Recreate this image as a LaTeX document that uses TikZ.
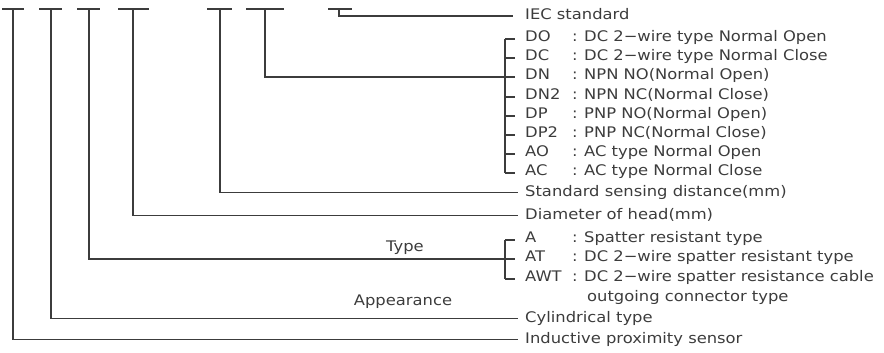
\documentclass[tikz,border=0pt]{standalone}
\usepackage{fontspec}
\setmainfont[FakeStretch=1.12]{DejaVu Sans}
\definecolor{ink}{HTML}{3C3C3C}
\begin{document}
\begin{tikzpicture}[x=1pt,y=-1pt,
  ln/.style={draw=ink,line width=1.2pt},
  txt/.style={inner sep=0pt,anchor=mid west,text=ink,font=\fontsize{14.6}{16}\selectfont},
  lbl/.style={inner sep=0pt,anchor=mid,text=ink,font=\fontsize{14.6}{16}\selectfont}]
\useasboundingbox (0,0) rectangle (884,353);
% top bars
\foreach \n/\a/\b/\c in {1/2/24/13,2/39/62/51,3/77/100/89,4/118/149/133,5/207/232/220,6/246/284/265,7/328/352/339}{
  \coordinate (bl\n) at (\a,9);
  \coordinate (br\n) at (\b,9);
  \coordinate (bm\n) at (\c,9);
  \draw[ln] (bl\n) -- (br\n);
}
% texts
\node[txt] (iec) at (525,17) {IEC standard};
\foreach \k/\y/\code/\desc in {do/39/DO/DC 2−wire type Normal Open,
  dc/58/DC/DC 2−wire type Normal Close,
  dn/77/DN/NPN NO(Normal Open),
  dntwo/97/DN2/NPN NC(Normal Close),
  dp/116/DP/PNP NO(Normal Open),
  dptwo/135/DP2/PNP NC(Normal Close),
  ao/154/AO/AC type Normal Open,
  ac/173/AC/AC type Normal Close,
  a/240/A/Spatter resistant type,
  at/259/AT/DC 2−wire spatter resistant type,
  awt/279/AWT/DC 2−wire spatter resistance cable}{
  \node[txt] (c\k) at (525,\y) {\code};
  \node[txt] (k\k) at (572,\y) {:};
  \node[txt] (d\k) at (584,\y) {\desc};
  \coordinate (t\k) at (505,\y);
  \draw[ln] (t\k) -- (515,\y);
}
\node[txt] (out) at (587,299) {outgoing connector type};
\node[txt] (std) at (525,194) {Standard sensing distance(mm)};
\node[txt] (dia) at (525,217) {Diameter of head(mm)};
\node[txt] (cyl) at (525,320) {Cylindrical type};
\node[txt] (ind) at (525,341) {Inductive proximity sensor};
\node[lbl] (type) at (405,249) {Type};
\node[lbl] (app) at (403,303) {Appearance};
% brackets
\draw[ln] (tdo) -- (tac);
\draw[ln] (ta) -- (tawt);
% connectors
\draw[ln] (bm7) |- ([xshift=-12pt]iec.west |- 0,16);
\draw[ln] (bm6) |- (tdn);
\draw[ln] (bm5) |- ([xshift=-7pt]std.west);
\draw[ln] (bm4) |- ([xshift=-7pt]dia.west);
\draw[ln] (bm3) |- (tat);
\draw[ln] (bm2) |- ([xshift=-7pt]cyl.west);
\draw[ln] (bm1) |- ([xshift=-7pt]ind.west);
\end{tikzpicture}
\end{document}
